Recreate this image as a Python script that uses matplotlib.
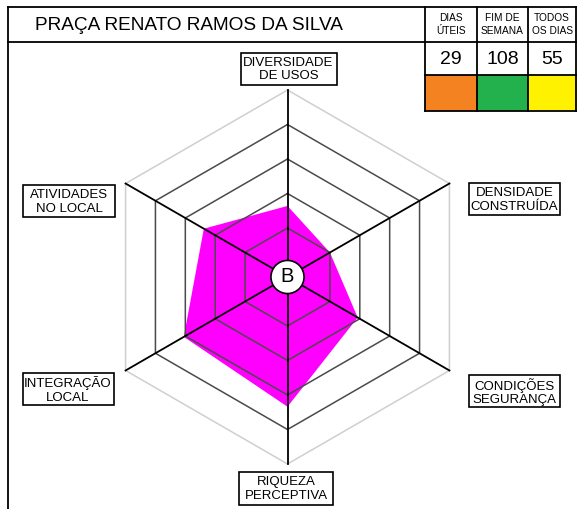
import numpy as np
import matplotlib
matplotlib.use("Agg")
import matplotlib.pyplot as plt
from matplotlib.patches import Rectangle, Circle

plt.rcParams['font.family'] = ['Liberation Sans', 'DejaVu Sans']

# ---- data ----
title = "PRAÇA RENATO RAMOS DA SILVA"
axis_labels = ["DIVERSIDADE\nDE USOS", "DENSIDADE\nCONSTRUÍDA", "CONDIÇÕES\nSEGURANÇA",
               "RIQUEZA\nPERCEPTIVA", "INTEGRAÇÃO\nLOCAL", "ATIVIDADES\nNO LOCAL"]
axis_angles_deg = [90, 30, -30, -90, -150, 150]
values = [1.64, 1.0, 1.93, 3.34, 3.05, 2.38]
ring_levels = [1, 2, 3, 4, 5]
center_label = "B"
table_headers = ["DIAS\nÚTEIS", "FIM DE\nSEMANA", "TODOS\nOS DIAS"]
table_values = [29, 108, 55]
table_colors = ["#F58220", "#22B14C", "#FFF200"]

# ---- figure ----
W, H = 577, 509
fig = plt.figure(figsize=(W / 100, H / 100), dpi=100)
fig.patch.set_facecolor("white")

# frame axes in pixel coordinates
fa = fig.add_axes([0, 0, 1, 1])
fa.set_xlim(0, W)
fa.set_ylim(H, 0)
fa.axis("off")

# radar axes in value units
cx, cy = 287.5, 277.0       # centre (px)
scale = 34.5                # px per unit
offset = 0.42               # inner hole (units)
ra = fig.add_axes([0, 0, 1, 1])
ra.set_xlim(-cx / scale, (W - cx) / scale)
ra.set_ylim(-(H - cy) / scale, cy / scale)
ra.axis("off")
ra.patch.set_alpha(0)

ang = np.deg2rad(axis_angles_deg)
r_vals = offset + np.array(values)
ra.fill(r_vals * np.cos(ang), r_vals * np.sin(ang), color="#FF00FF", zorder=1, lw=0)

for lvl in ring_levels:
    rr = offset + lvl
    xs = np.append(rr * np.cos(ang), rr * np.cos(ang[0]))
    ys = np.append(rr * np.sin(ang), rr * np.sin(ang[0]))
    col = "#cfcfcf" if lvl == ring_levels[-1] else "#4a4a4a"
    ra.plot(xs, ys, color=col, lw=1.1, zorder=2)

rmax = offset + ring_levels[-1]
for a in ang:
    ra.plot([0, rmax * np.cos(a)], [0, rmax * np.sin(a)], color="black", lw=1.3, zorder=3)

ra.add_patch(Circle((0, 0), 0.48, facecolor="white", edgecolor="black", lw=1.2, zorder=4))
ra.text(0, 0, center_label, ha="center", va="center", fontsize=14.5, zorder=5)

# axis label boxes (px layout)
box_centers = [(288.5, 68.5), (514.5, 199), (514.5, 391), (286, 488), (68, 389), (69, 201)]
box_sizes = [(96, 32), (91, 32), (91, 32), (94, 33), (91, 32), (92, 32)]
for lab, (bx, by), (bw, bh) in zip(axis_labels, box_centers, box_sizes):
    fa.add_patch(Rectangle((bx - bw / 2, by - bh / 2), bw, bh, facecolor="white",
                           edgecolor="black", lw=1.2, zorder=6))
    fa.text(bx, by + 1, lab, ha="center", va="center", fontsize=9.5,
            linespacing=1.15, zorder=7)

# header frame
lc = "black"
fa.plot([8, 8], [7, H], color=lc, lw=1.3)
fa.plot([8, W], [7, 7], color=lc, lw=1.3)
fa.plot([8, W], [41.7, 41.7], color=lc, lw=1.3)
fa.text(35, 25, title, ha="left", va="center", fontsize=13.7)

# table
col_x = [425, 476.7, 528, 576.3]
fa.plot([425, W], [75, 75], color=lc, lw=1.3)
fa.plot([425, W], [110.5, 110.5], color=lc, lw=1.3)
for i in range(3):
    x0, x1 = col_x[i], col_x[i + 1]
    fa.add_patch(Rectangle((x0, 75), x1 - x0, 35.5, facecolor=table_colors[i],
                           edgecolor="none", zorder=1))
    xm = (x0 + x1) / 2
    fa.text(xm, 24.5, table_headers[i], ha="center", va="center", fontsize=7.3,
            linespacing=1.3)
    fa.text(xm, 59, str(table_values[i]), ha="center", va="center", fontsize=14)
for x in col_x:
    fa.plot([x, x], [7, 110.5], color=lc, lw=1.3, zorder=3)

fig.savefig("out.png", dpi=100, facecolor="white")
